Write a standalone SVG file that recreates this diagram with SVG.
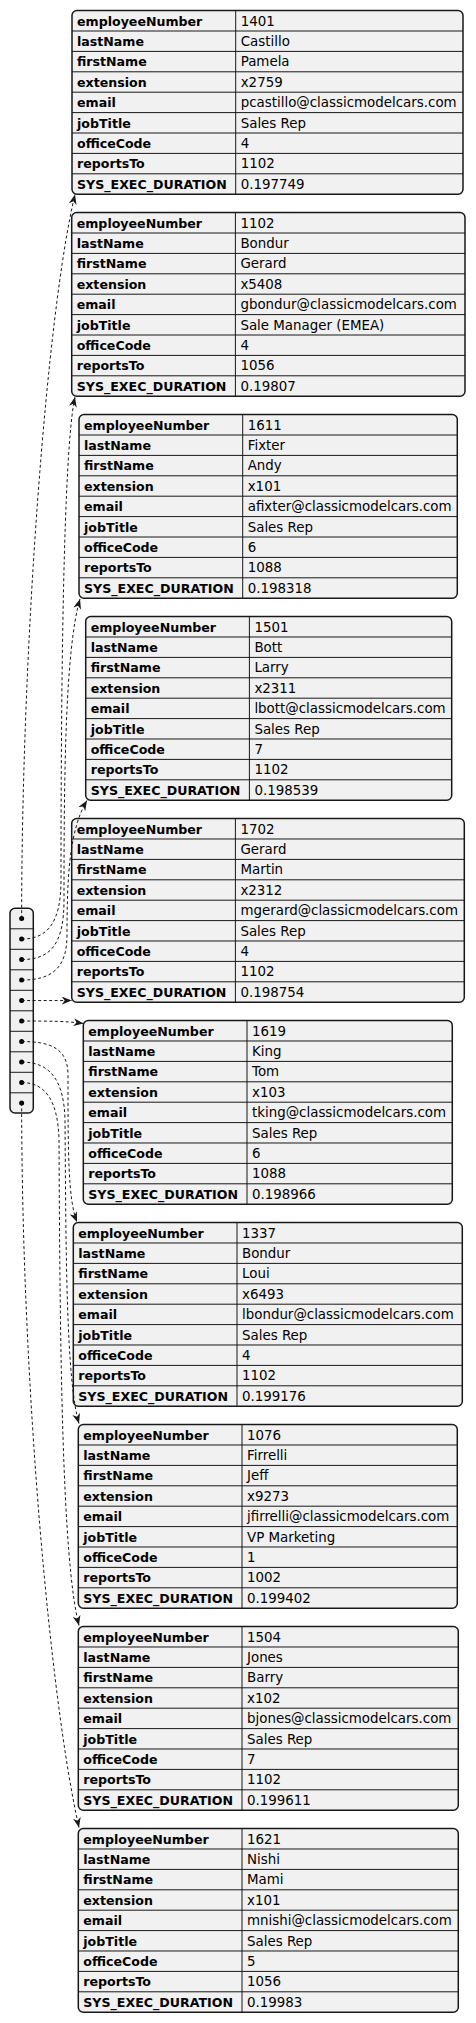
<svg xmlns="http://www.w3.org/2000/svg" width="476" height="2023" viewBox="0 0 476 2023">
<style>
.box{fill:#F1F1F1;stroke:#181818;stroke-width:1.5}
.grid{fill:none;stroke:#181818;stroke-width:1}
.k{font-family:"DejaVu Sans","Liberation Sans",sans-serif;font-weight:bold;font-size:12.6px;fill:#000}
.v{font-family:"DejaVu Sans","Liberation Sans",sans-serif;font-size:13.4px;fill:#000}
.e{fill:none;stroke:#181818;stroke-width:1;stroke-dasharray:3,2.5;marker-end:url(#ah)}
.dot{fill:#000}
</style>
<defs>
<marker id="ah" viewBox="0 0 10 8" refX="10" refY="4" markerWidth="10" markerHeight="8" markerUnits="userSpaceOnUse" orient="auto">
<path d="M10,4 L0,0 L3,4 L0,8 Z" fill="#181818" stroke="none"/>
</marker>
</defs>
<rect width="476" height="2023" fill="#FFFFFF"/>

<g id="t1401" transform="translate(72,10.6)">
<rect class="box" width="391" height="183.6" rx="5"/>
<path class="grid" d="M163.7 0V183.6M0 20.4H391M0 40.8H391M0 61.2H391M0 81.6H391M0 102H391M0 122.4H391M0 142.8H391M0 163.2H391"/>
<text class="k" x="5" y="15">employeeNumber</text><text class="v" x="168.7" y="15">1401</text>
<text class="k" x="5" y="35.4">lastName</text><text class="v" x="168.7" y="35.4">Castillo</text>
<text class="k" x="5" y="55.8">firstName</text><text class="v" x="168.7" y="55.8">Pamela</text>
<text class="k" x="5" y="76.2">extension</text><text class="v" x="168.7" y="76.2">x2759</text>
<text class="k" x="5" y="96.6">email</text><text class="v" x="168.7" y="96.6">pcastillo@classicmodelcars.com</text>
<text class="k" x="5" y="117">jobTitle</text><text class="v" x="168.7" y="117">Sales Rep</text>
<text class="k" x="5" y="137.4">officeCode</text><text class="v" x="168.7" y="137.4">4</text>
<text class="k" x="5" y="157.8">reportsTo</text><text class="v" x="168.7" y="157.8">1102</text>
<text class="k" x="5" y="178.2">SYS_EXEC_DURATION</text><text class="v" x="168.7" y="178.2">0.197749</text>
</g>

<g id="t1102" transform="translate(71.7,212.6)">
<rect class="box" width="393.3" height="183.6" rx="5"/>
<path class="grid" d="M163.7 0V183.6M0 20.4H393.3M0 40.8H393.3M0 61.2H393.3M0 81.6H393.3M0 102H393.3M0 122.4H393.3M0 142.8H393.3M0 163.2H393.3"/>
<text class="k" x="5" y="15">employeeNumber</text><text class="v" x="168.7" y="15">1102</text>
<text class="k" x="5" y="35.4">lastName</text><text class="v" x="168.7" y="35.4">Bondur</text>
<text class="k" x="5" y="55.8">firstName</text><text class="v" x="168.7" y="55.8">Gerard</text>
<text class="k" x="5" y="76.2">extension</text><text class="v" x="168.7" y="76.2">x5408</text>
<text class="k" x="5" y="96.6">email</text><text class="v" x="168.7" y="96.6">gbondur@classicmodelcars.com</text>
<text class="k" x="5" y="117">jobTitle</text><text class="v" x="168.7" y="117">Sale Manager (EMEA)</text>
<text class="k" x="5" y="137.4">officeCode</text><text class="v" x="168.7" y="137.4">4</text>
<text class="k" x="5" y="157.8">reportsTo</text><text class="v" x="168.7" y="157.8">1056</text>
<text class="k" x="5" y="178.2">SYS_EXEC_DURATION</text><text class="v" x="168.7" y="178.2">0.19807</text>
</g>

<g id="t1611" transform="translate(79,414.6)">
<rect class="box" width="378.3" height="183.6" rx="5"/>
<path class="grid" d="M163.7 0V183.6M0 20.4H378.3M0 40.8H378.3M0 61.2H378.3M0 81.6H378.3M0 102H378.3M0 122.4H378.3M0 142.8H378.3M0 163.2H378.3"/>
<text class="k" x="5" y="15">employeeNumber</text><text class="v" x="168.7" y="15">1611</text>
<text class="k" x="5" y="35.4">lastName</text><text class="v" x="168.7" y="35.4">Fixter</text>
<text class="k" x="5" y="55.8">firstName</text><text class="v" x="168.7" y="55.8">Andy</text>
<text class="k" x="5" y="76.2">extension</text><text class="v" x="168.7" y="76.2">x101</text>
<text class="k" x="5" y="96.6">email</text><text class="v" x="168.7" y="96.6">afixter@classicmodelcars.com</text>
<text class="k" x="5" y="117">jobTitle</text><text class="v" x="168.7" y="117">Sales Rep</text>
<text class="k" x="5" y="137.4">officeCode</text><text class="v" x="168.7" y="137.4">6</text>
<text class="k" x="5" y="157.8">reportsTo</text><text class="v" x="168.7" y="157.8">1088</text>
<text class="k" x="5" y="178.2">SYS_EXEC_DURATION</text><text class="v" x="168.7" y="178.2">0.198318</text>
</g>

<g id="t1501" transform="translate(85.7,616.6)">
<rect class="box" width="366" height="183.6" rx="5"/>
<path class="grid" d="M163.7 0V183.6M0 20.4H366M0 40.8H366M0 61.2H366M0 81.6H366M0 102H366M0 122.4H366M0 142.8H366M0 163.2H366"/>
<text class="k" x="5" y="15">employeeNumber</text><text class="v" x="168.7" y="15">1501</text>
<text class="k" x="5" y="35.4">lastName</text><text class="v" x="168.7" y="35.4">Bott</text>
<text class="k" x="5" y="55.8">firstName</text><text class="v" x="168.7" y="55.8">Larry</text>
<text class="k" x="5" y="76.2">extension</text><text class="v" x="168.7" y="76.2">x2311</text>
<text class="k" x="5" y="96.6">email</text><text class="v" x="168.7" y="96.6">lbott@classicmodelcars.com</text>
<text class="k" x="5" y="117">jobTitle</text><text class="v" x="168.7" y="117">Sales Rep</text>
<text class="k" x="5" y="137.4">officeCode</text><text class="v" x="168.7" y="137.4">7</text>
<text class="k" x="5" y="157.8">reportsTo</text><text class="v" x="168.7" y="157.8">1102</text>
<text class="k" x="5" y="178.2">SYS_EXEC_DURATION</text><text class="v" x="168.7" y="178.2">0.198539</text>
</g>

<g id="t1702" transform="translate(71.7,818.6)">
<rect class="box" width="392.6" height="183.6" rx="5"/>
<path class="grid" d="M163.7 0V183.6M0 20.4H392.6M0 40.8H392.6M0 61.2H392.6M0 81.6H392.6M0 102H392.6M0 122.4H392.6M0 142.8H392.6M0 163.2H392.6"/>
<text class="k" x="5" y="15">employeeNumber</text><text class="v" x="168.7" y="15">1702</text>
<text class="k" x="5" y="35.4">lastName</text><text class="v" x="168.7" y="35.4">Gerard</text>
<text class="k" x="5" y="55.8">firstName</text><text class="v" x="168.7" y="55.8">Martin</text>
<text class="k" x="5" y="76.2">extension</text><text class="v" x="168.7" y="76.2">x2312</text>
<text class="k" x="5" y="96.6">email</text><text class="v" x="168.7" y="96.6">mgerard@classicmodelcars.com</text>
<text class="k" x="5" y="117">jobTitle</text><text class="v" x="168.7" y="117">Sales Rep</text>
<text class="k" x="5" y="137.4">officeCode</text><text class="v" x="168.7" y="137.4">4</text>
<text class="k" x="5" y="157.8">reportsTo</text><text class="v" x="168.7" y="157.8">1102</text>
<text class="k" x="5" y="178.2">SYS_EXEC_DURATION</text><text class="v" x="168.7" y="178.2">0.198754</text>
</g>

<g id="t1619" transform="translate(83.3,1020.6)">
<rect class="box" width="369" height="183.6" rx="5"/>
<path class="grid" d="M163.7 0V183.6M0 20.4H369M0 40.8H369M0 61.2H369M0 81.6H369M0 102H369M0 122.4H369M0 142.8H369M0 163.2H369"/>
<text class="k" x="5" y="15">employeeNumber</text><text class="v" x="168.7" y="15">1619</text>
<text class="k" x="5" y="35.4">lastName</text><text class="v" x="168.7" y="35.4">King</text>
<text class="k" x="5" y="55.8">firstName</text><text class="v" x="168.7" y="55.8">Tom</text>
<text class="k" x="5" y="76.2">extension</text><text class="v" x="168.7" y="76.2">x103</text>
<text class="k" x="5" y="96.6">email</text><text class="v" x="168.7" y="96.6">tking@classicmodelcars.com</text>
<text class="k" x="5" y="117">jobTitle</text><text class="v" x="168.7" y="117">Sales Rep</text>
<text class="k" x="5" y="137.4">officeCode</text><text class="v" x="168.7" y="137.4">6</text>
<text class="k" x="5" y="157.8">reportsTo</text><text class="v" x="168.7" y="157.8">1088</text>
<text class="k" x="5" y="178.2">SYS_EXEC_DURATION</text><text class="v" x="168.7" y="178.2">0.198966</text>
</g>

<g id="t1337" transform="translate(73.3,1222.6)">
<rect class="box" width="389" height="183.6" rx="5"/>
<path class="grid" d="M163.7 0V183.6M0 20.4H389M0 40.8H389M0 61.2H389M0 81.6H389M0 102H389M0 122.4H389M0 142.8H389M0 163.2H389"/>
<text class="k" x="5" y="15">employeeNumber</text><text class="v" x="168.7" y="15">1337</text>
<text class="k" x="5" y="35.4">lastName</text><text class="v" x="168.7" y="35.4">Bondur</text>
<text class="k" x="5" y="55.8">firstName</text><text class="v" x="168.7" y="55.8">Loui</text>
<text class="k" x="5" y="76.2">extension</text><text class="v" x="168.7" y="76.2">x6493</text>
<text class="k" x="5" y="96.6">email</text><text class="v" x="168.7" y="96.6">lbondur@classicmodelcars.com</text>
<text class="k" x="5" y="117">jobTitle</text><text class="v" x="168.7" y="117">Sales Rep</text>
<text class="k" x="5" y="137.4">officeCode</text><text class="v" x="168.7" y="137.4">4</text>
<text class="k" x="5" y="157.8">reportsTo</text><text class="v" x="168.7" y="157.8">1102</text>
<text class="k" x="5" y="178.2">SYS_EXEC_DURATION</text><text class="v" x="168.7" y="178.2">0.199176</text>
</g>

<g id="t1076" transform="translate(78.3,1424.6)">
<rect class="box" width="379" height="183.6" rx="5"/>
<path class="grid" d="M163.7 0V183.6M0 20.4H379M0 40.8H379M0 61.2H379M0 81.6H379M0 102H379M0 122.4H379M0 142.8H379M0 163.2H379"/>
<text class="k" x="5" y="15">employeeNumber</text><text class="v" x="168.7" y="15">1076</text>
<text class="k" x="5" y="35.4">lastName</text><text class="v" x="168.7" y="35.4">Firrelli</text>
<text class="k" x="5" y="55.8">firstName</text><text class="v" x="168.7" y="55.8">Jeff</text>
<text class="k" x="5" y="76.2">extension</text><text class="v" x="168.7" y="76.2">x9273</text>
<text class="k" x="5" y="96.6">email</text><text class="v" x="168.7" y="96.6">jfirrelli@classicmodelcars.com</text>
<text class="k" x="5" y="117">jobTitle</text><text class="v" x="168.7" y="117">VP Marketing</text>
<text class="k" x="5" y="137.4">officeCode</text><text class="v" x="168.7" y="137.4">1</text>
<text class="k" x="5" y="157.8">reportsTo</text><text class="v" x="168.7" y="157.8">1002</text>
<text class="k" x="5" y="178.2">SYS_EXEC_DURATION</text><text class="v" x="168.7" y="178.2">0.199402</text>
</g>

<g id="t1504" transform="translate(78.3,1626.6)">
<rect class="box" width="380" height="183.6" rx="5"/>
<path class="grid" d="M163.7 0V183.6M0 20.4H380M0 40.8H380M0 61.2H380M0 81.6H380M0 102H380M0 122.4H380M0 142.8H380M0 163.2H380"/>
<text class="k" x="5" y="15">employeeNumber</text><text class="v" x="168.7" y="15">1504</text>
<text class="k" x="5" y="35.4">lastName</text><text class="v" x="168.7" y="35.4">Jones</text>
<text class="k" x="5" y="55.8">firstName</text><text class="v" x="168.7" y="55.8">Barry</text>
<text class="k" x="5" y="76.2">extension</text><text class="v" x="168.7" y="76.2">x102</text>
<text class="k" x="5" y="96.6">email</text><text class="v" x="168.7" y="96.6">bjones@classicmodelcars.com</text>
<text class="k" x="5" y="117">jobTitle</text><text class="v" x="168.7" y="117">Sales Rep</text>
<text class="k" x="5" y="137.4">officeCode</text><text class="v" x="168.7" y="137.4">7</text>
<text class="k" x="5" y="157.8">reportsTo</text><text class="v" x="168.7" y="157.8">1102</text>
<text class="k" x="5" y="178.2">SYS_EXEC_DURATION</text><text class="v" x="168.7" y="178.2">0.199611</text>
</g>

<g id="t1621" transform="translate(78.3,1828.6)">
<rect class="box" width="380" height="183.6" rx="5"/>
<path class="grid" d="M163.7 0V183.6M0 20.4H380M0 40.8H380M0 61.2H380M0 81.6H380M0 102H380M0 122.4H380M0 142.8H380M0 163.2H380"/>
<text class="k" x="5" y="15">employeeNumber</text><text class="v" x="168.7" y="15">1621</text>
<text class="k" x="5" y="35.4">lastName</text><text class="v" x="168.7" y="35.4">Nishi</text>
<text class="k" x="5" y="55.8">firstName</text><text class="v" x="168.7" y="55.8">Mami</text>
<text class="k" x="5" y="76.2">extension</text><text class="v" x="168.7" y="76.2">x101</text>
<text class="k" x="5" y="96.6">email</text><text class="v" x="168.7" y="96.6">mnishi@classicmodelcars.com</text>
<text class="k" x="5" y="117">jobTitle</text><text class="v" x="168.7" y="117">Sales Rep</text>
<text class="k" x="5" y="137.4">officeCode</text><text class="v" x="168.7" y="137.4">5</text>
<text class="k" x="5" y="157.8">reportsTo</text><text class="v" x="168.7" y="157.8">1056</text>
<text class="k" x="5" y="178.2">SYS_EXEC_DURATION</text><text class="v" x="168.7" y="178.2">0.19983</text>
</g>

<g id="array">
<rect class="box" x="10" y="908.3" width="23.3" height="204.7" rx="5"/>
<path class="grid" d="M10 928.8H33.3M10 949.3H33.3M10 969.8H33.3M10 990.3H33.3M10 1010.8H33.3M10 1031.3H33.3M10 1051.8H33.3M10 1072.3H33.3M10 1092.8H33.3"/>
<circle class="dot" cx="21.65" cy="918.55" r="2.5"/>
<circle class="dot" cx="21.65" cy="939.05" r="2.5"/>
<circle class="dot" cx="21.65" cy="959.55" r="2.5"/>
<circle class="dot" cx="21.65" cy="980.05" r="2.5"/>
<circle class="dot" cx="21.65" cy="1000.55" r="2.5"/>
<circle class="dot" cx="21.65" cy="1021.05" r="2.5"/>
<circle class="dot" cx="21.65" cy="1041.55" r="2.5"/>
<circle class="dot" cx="21.65" cy="1062.05" r="2.5"/>
<circle class="dot" cx="21.65" cy="1082.55" r="2.5"/>
<circle class="dot" cx="21.65" cy="1103.05" r="2.5"/>
</g>

<g id="connectors">
<path class="e" d="M21.65 918.55 C21.65 650 46.6 312 75 194.5"/>
<path class="e" d="M21.65 939.05 C48 939.05 61 922 61 880 C61 700 63 450 75 397"/>
<path class="e" d="M21.65 959.55 C50 959.55 64 945 64 900 C64 780 65 650 80 599"/>
<path class="e" d="M21.65 980.05 C52 980.05 67 968 67 935 C67 880 69 830 87 800.5"/>
<path class="e" d="M21.65 1000.55 L71.7 1000.55"/>
<path class="e" d="M21.65 1021.05 C50 1021.05 65 1021 83.5 1023.5"/>
<path class="e" d="M21.65 1041.55 C50 1041.55 68 1048 68 1075 C68 1150 68 1200 77 1222"/>
<path class="e" d="M21.65 1062.05 C50 1062.05 64 1080 65 1120 C66 1250 66 1380 79 1423.5"/>
<path class="e" d="M21.65 1082.55 C45 1082.55 58 1100 59 1140 C60 1350 62 1560 79 1625.5"/>
<path class="e" d="M21.65 1103.05 C21.65 1380 50 1700 79 1827.5"/>
</g>
</svg>
